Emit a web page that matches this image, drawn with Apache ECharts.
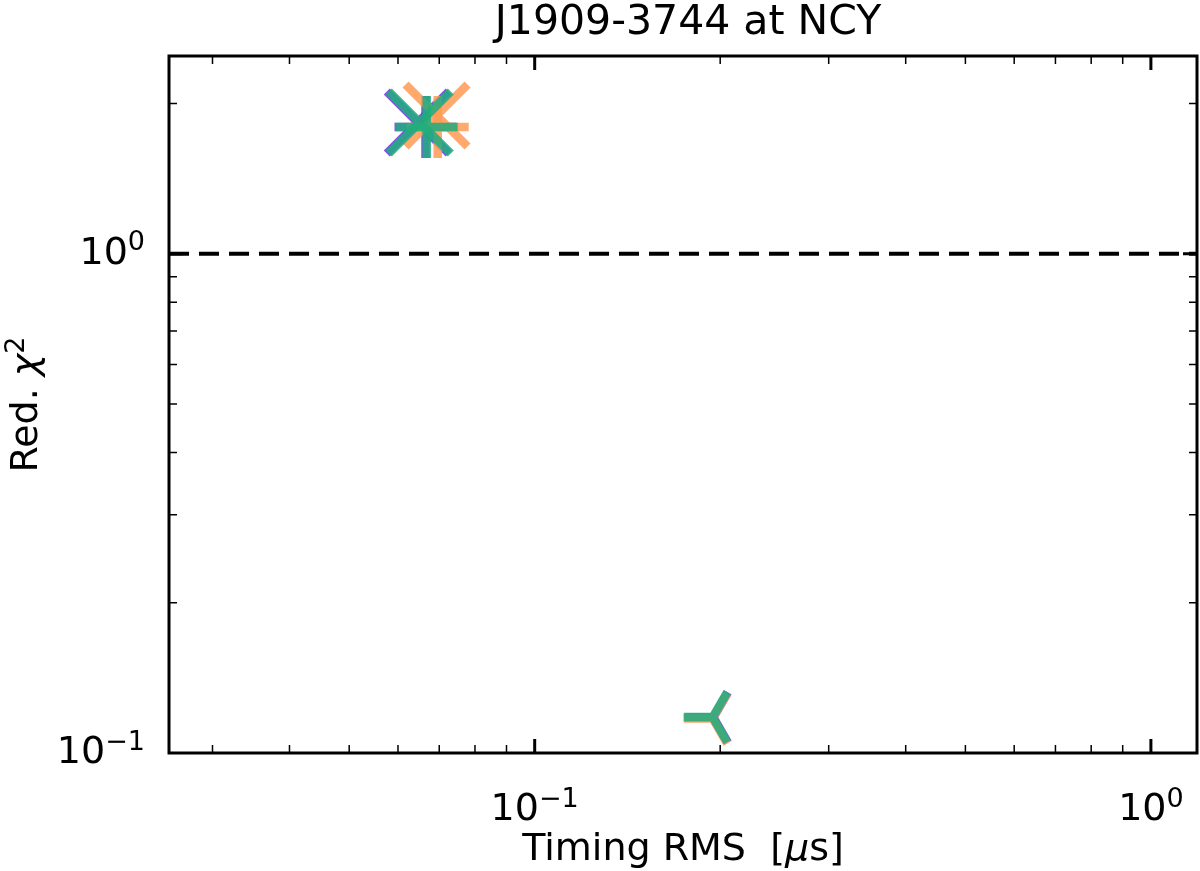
<!DOCTYPE html>
<html><head><meta charset="utf-8">
<script src="https://cdn.jsdelivr.net/npm/echarts@6/dist/echarts.min.js"></script>
<style>html,body{margin:0;padding:0;background:#fff}#c{width:1200px;height:871px}</style>
</head><body><div id="c"></div>
<script>
// ---- data ----
const titleText = 'J1909-3744 at NCY';
const xRange = [0.0255, 1.188];
const yRange = [0.1, 2.49];
const xTickValues = [0.1, 1];
const xTickExponents = ['\u22121', '0'];
const yTickValues = [0.1, 1];
const yTickExponents = ['\u22121', '0'];
const xMajorTicks = [0.1, 1];
const xMinorTicks = [0.03, 0.04, 0.05, 0.06, 0.07, 0.08, 0.09, 0.2, 0.3, 0.4, 0.5, 0.6, 0.7, 0.8, 0.9];
const yMajorTicks = [1];
const yMinorTicks = [0.2, 0.3, 0.4, 0.5, 0.6, 0.7, 0.8, 0.9, 2];
const refLineY = 1;

// markers: [timing RMS (us), reduced chi^2]
const purpleX = [[0.0646, 1.833]];
const purplePlus = [[0.0665, 1.795]];
const purpleTri = [[0.1950, 0.1178]];
const orangeX = [[0.0693, 1.892]];
const orangePlus = [[0.0696, 1.795]];
const orangeTri = [[0.1945, 0.1172]];
const greenX = [[0.0651, 1.833]];
const greenPlus = [[0.0668, 1.795]];
const greenTri = [[0.1945, 0.1180]];

// ---- styles ----
const FONT = 'DejaVu Sans';
const colors = { purple: '#7430e6', orange: '#ff9a55', green: '#1fae7c' };

function markerSeries(name, color, data, shape) {
  return {
    type: 'custom', name: name, silent: true, data: data,
    renderItem: function (params, api) {
      const p = api.coord([api.value(0), api.value(1)]);
      const cx = p[0], cy = p[1];
      let d;
      if (shape === 'x') {
        const a = 31;
        d = `M${cx - a} ${cy - a}L${cx + a} ${cy + a}M${cx - a} ${cy + a}L${cx + a} ${cy - a}`;
      } else if (shape === '+') {
        const a = 31;
        d = `M${cx - a} ${cy}L${cx + a} ${cy}M${cx} ${cy - a}L${cx} ${cy + a}`;
      } else {
        const r = 29;
        d = `M${cx} ${cy}L${cx - r} ${cy}M${cx} ${cy}L${cx + r * 0.5} ${cy - r * 0.866}M${cx} ${cy}L${cx + r * 0.5} ${cy + r * 0.866}`;
      }
      return { type: 'path', shape: { pathData: d },
        style: { fill: 'none', stroke: color, lineWidth: 8.5, lineCap: 'butt', lineJoin: 'miter', opacity: 0.85 } };
    }
  };
}

function tickSeries(values, axis, len, width) {
  return {
    type: 'custom', silent: true,
    data: values.map(v => axis === 'x' ? [v, 1] : [1, v]),
    renderItem: function (params, api) {
      const cs = params.coordSys;
      let d;
      if (axis === 'x') {
        const px = api.coord([api.value(0), 1])[0];
        const b = cs.y + cs.height, t = cs.y;
        d = `M${px} ${b}L${px} ${b - len}M${px} ${t}L${px} ${t + len}`;
      } else {
        const py = api.coord([1, api.value(1)])[1];
        const l = cs.x, r = cs.x + cs.width;
        d = `M${l} ${py}L${l + len} ${py}M${r} ${py}L${r - len} ${py}`;
      }
      return { type: 'path', shape: { pathData: d }, style: { fill: 'none', stroke: '#000', lineWidth: width } };
    }
  };
}

function expFormatter(vals, exps) {
  return function (v) {
    const i = vals.findIndex(t => Math.abs(Math.log10(v / t)) < 1e-6);
    if (i < 0) return '';
    return '{b|10}{s|' + exps[i] + '}';
  };
}

const richSup = {
  b: { fontFamily: FONT, fontSize: 38, lineHeight: 48, color: '#000' },
  s: { fontFamily: FONT, fontSize: 27, lineHeight: 24, verticalAlign: 'top', color: '#000' }
};

const chart = echarts.init(document.getElementById('c'), null, { renderer: 'canvas' });
chart.setOption({
  animation: false,
  backgroundColor: '#fff',
  title: {
    text: titleText, left: 683, top: -2, textAlign: 'center',
    textStyle: { fontFamily: FONT, fontSize: 41, fontWeight: 'normal', color: '#000' }
  },
  grid: { left: 169, right: 3, top: 56, bottom: 118, containLabel: false, outerBoundsMode: 'none',
    show: true, borderColor: '#000', borderWidth: 3, backgroundColor: 'transparent' },
  xAxis: {
    type: 'log', logBase: 10, min: xRange[0], max: xRange[1],
    axisLine: { show: false }, axisTick: { show: false }, splitLine: { show: false },
    axisLabel: { margin: 33, formatter: expFormatter(xTickValues, xTickExponents), rich: richSup },
    name: 'Timing RMS  [{i|\u03bc}s]', nameLocation: 'middle', nameGap: 78, nameMoveOverlap: false,
    nameTextStyle: { fontFamily: FONT, fontSize: 38, color: '#000',
      rich: { i: { fontFamily: FONT, fontSize: 38, fontStyle: 'italic', color: '#000' } } }
  },
  yAxis: {
    type: 'log', logBase: 10, min: yRange[0], max: yRange[1],
    axisLine: { show: false }, axisTick: { show: false }, splitLine: { show: false },
    axisLabel: { margin: 24, formatter: expFormatter(yTickValues, yTickExponents), rich: richSup, showMinLabel: true },
    name: 'Red. {i|\u03c7}{s|2}', nameLocation: 'middle', nameGap: 118, nameRotate: 90, nameMoveOverlap: false,
    nameTextStyle: { fontFamily: FONT, fontSize: 38, color: '#000', lineHeight: 48,
      rich: {
        i: { fontFamily: FONT, fontSize: 38, fontStyle: 'italic', lineHeight: 48, color: '#000' },
        s: { fontFamily: FONT, fontSize: 27, lineHeight: 24, verticalAlign: 'top', color: '#000' }
      } }
  },
  series: [
    tickSeries(xMinorTicks, 'x', 8, 1.5),
    tickSeries(xMajorTicks, 'x', 14, 3),
    tickSeries(yMinorTicks, 'y', 8, 1.5),
    tickSeries(yMajorTicks, 'y', 14, 3),
    {
      type: 'line', silent: true, symbol: 'none',
      data: [[xRange[0], refLineY], [xRange[1], refLineY]],
      lineStyle: { color: '#000', width: 4, type: [20, 10] }
    },
    markerSeries('purple x', colors.purple, purpleX, 'x'),
    markerSeries('purple +', colors.purple, purplePlus, '+'),
    markerSeries('purple tri', colors.purple, purpleTri, 'tri'),
    markerSeries('orange x', colors.orange, orangeX, 'x'),
    markerSeries('orange +', colors.orange, orangePlus, '+'),
    markerSeries('orange tri', colors.orange, orangeTri, 'tri'),
    markerSeries('green x', colors.green, greenX, 'x'),
    markerSeries('green +', colors.green, greenPlus, '+'),
    markerSeries('green tri', colors.green, greenTri, 'tri')
  ]
});
</script></body></html>
